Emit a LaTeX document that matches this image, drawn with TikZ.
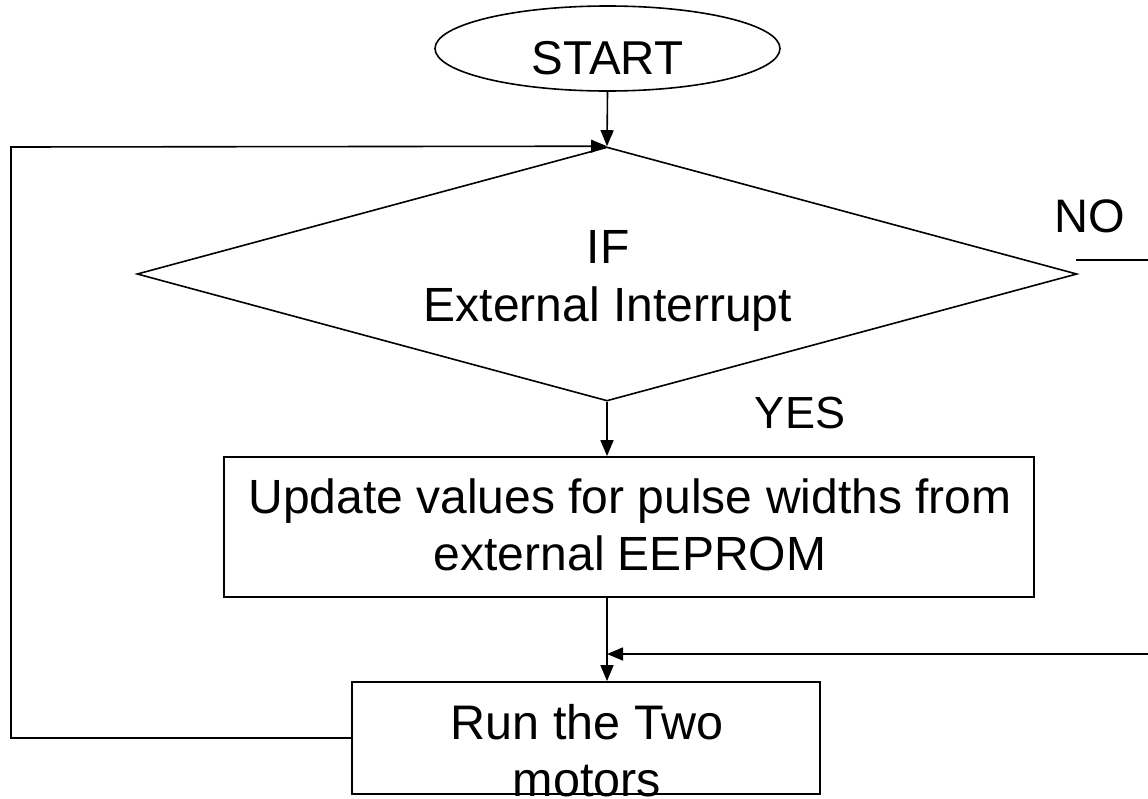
\documentclass[tikz,border=0pt]{standalone}
\usepackage{fontspec}
\setmainfont{Liberation Sans}
\usetikzlibrary{shapes.geometric,arrows.meta}
\tikzset{
  ln/.style={line width=1.6pt},
  arr/.style={ln,-{Triangle[length=16pt,width=13pt]}},
  txt/.style={inner sep=0pt,anchor=base,font=\fontsize{48}{57}\selectfont},
  boxs/.style={draw,line width=1.8pt,rectangle,inner sep=0pt}
}
\begin{document}
\begin{tikzpicture}[x=1pt,y=-1pt]
\useasboundingbox (0,0) rectangle (1148,798);
% START
\node[draw,ln,ellipse,minimum width=345pt,minimum height=85pt,inner sep=0pt] (start) at (607.5,48.5) {};
\node[txt,font=\fontsize{47.5}{55}\selectfont] (starttxt) at (607.5,74) {START};
% decision
\node[draw,ln,diamond,minimum width=940pt,minimum height=254pt,inner sep=0pt] (dec) at (607,274) {};
\node[txt] (dectxtA) at (608,263) {IF};
\node[txt] (dectxtB) at (608,321) {External Interrupt};
% box 1
\node[boxs,minimum width=810pt,minimum height=140pt] (box1) at (629,527) {};
\node[txt] (box1txtA) at (630,513) {Update values for pulse widths from};
\node[txt] (box1txtB) at (630,570) {external EEPROM};
% box 2
\node[boxs,minimum width=468pt,minimum height=112pt] (box2) at (586,738) {};
\node[txt,font=\fontsize{48.5}{57}\selectfont] (box2txtA) at (587,739) {Run the Two};
\node[txt,font=\fontsize{48.5}{57}\selectfont] (box2txtB) at (587,796) {motors};
% labels
\node[txt,font=\fontsize{45}{52}\selectfont] (yes) at (800,428) {YES};
\node[txt,font=\fontsize{47}{54}\selectfont] (no) at (1090,232) {NO};
% coordinates
\coordinate (noA) at (1076,260);
\coordinate (noB) at (1148,260);
\coordinate (noC) at (1148,654);
\coordinate (join) at (607,654);
\coordinate (loopL) at (11,738);
\coordinate (loopT) at (11,147);
% connectors
\draw[arr] (start.south) -- (dec.north);
\draw[arr] (dec.south) -- (dec.south |- box1.north);
\draw[arr] (dec.south |- box1.south) -- (dec.south |- box2.north);
\draw[ln] (noA) -- (noB);
\draw[arr] (noC) -- (join);
\draw[arr] (box2.west) -- (loopL) -- (loopT) -- (dec.north);
\end{tikzpicture}
\end{document}
